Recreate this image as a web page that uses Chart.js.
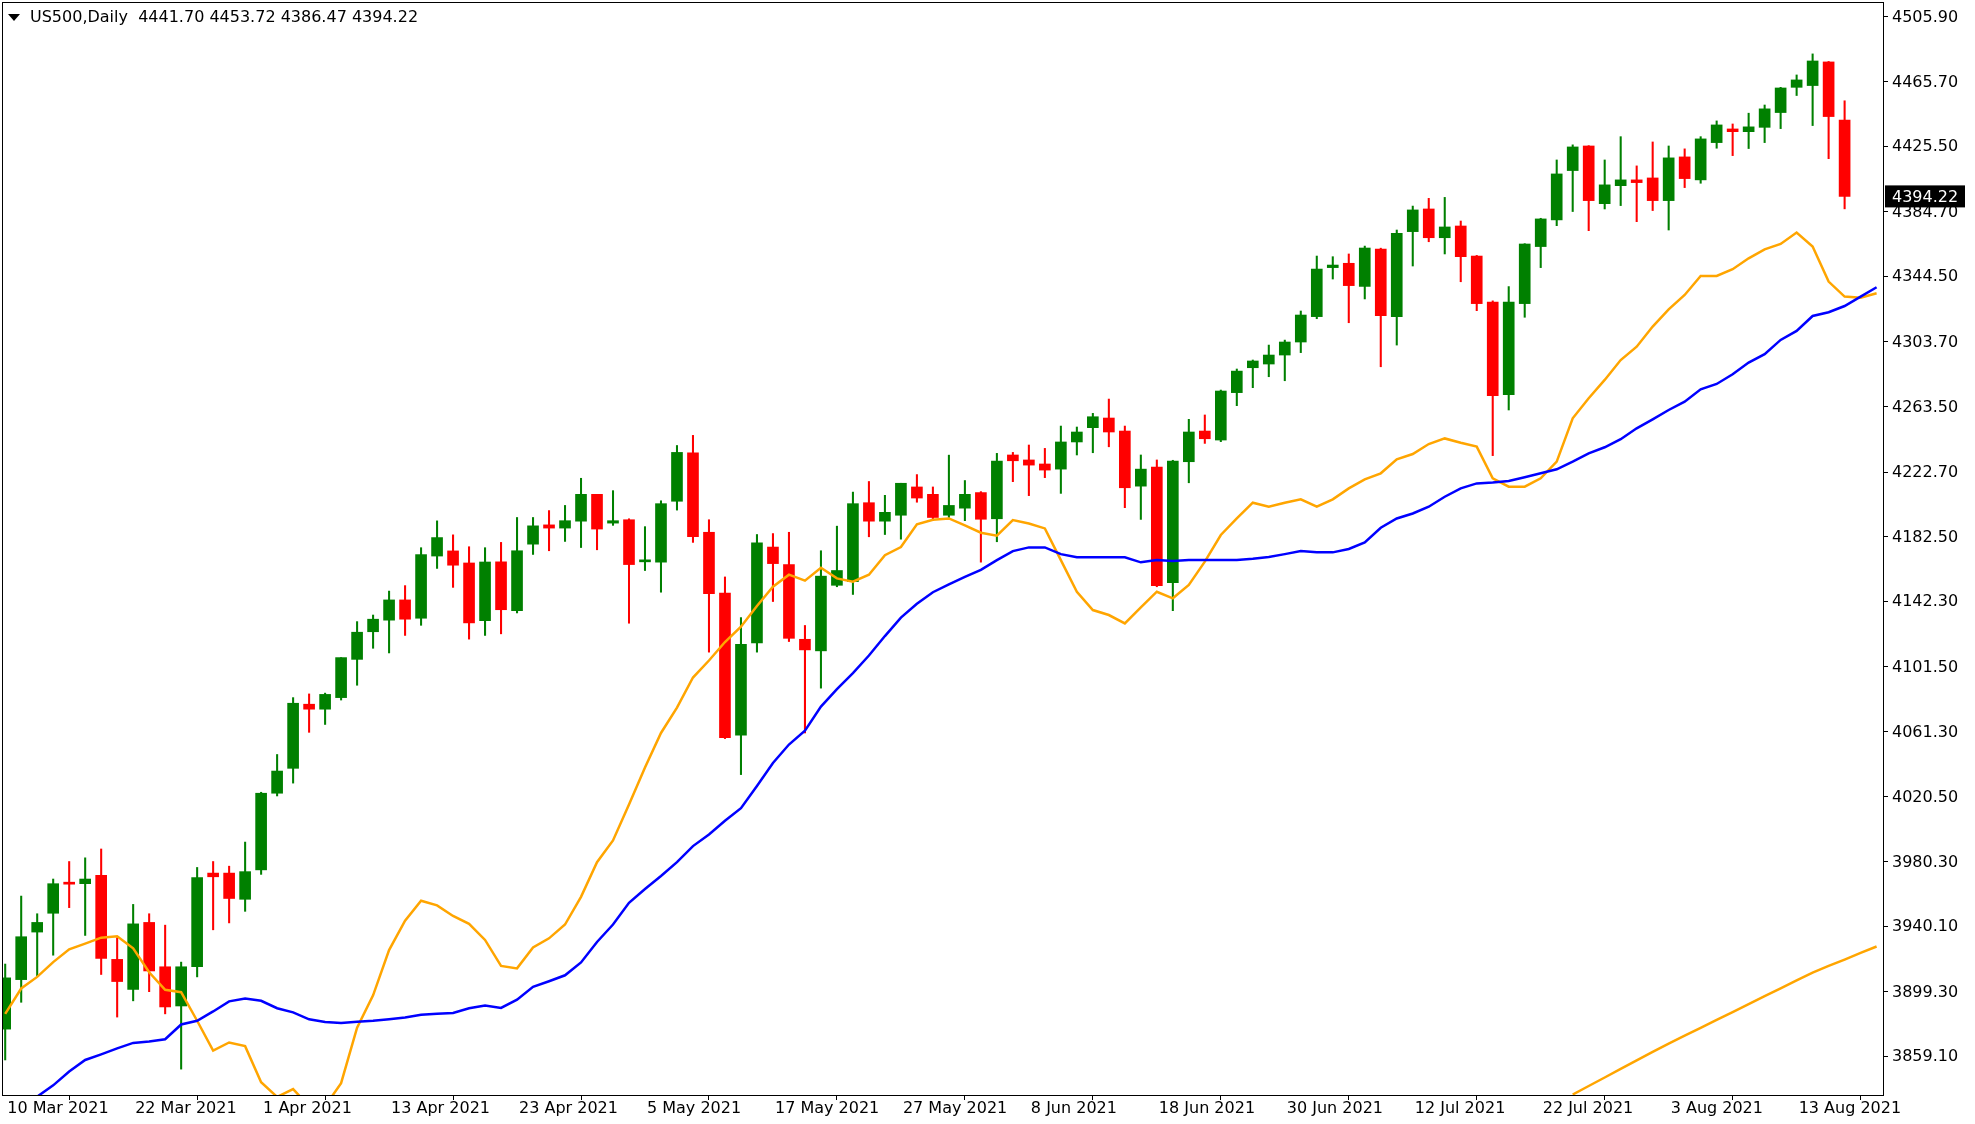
<!DOCTYPE html>
<html><head><meta charset="utf-8">
<script src="https://cdn.jsdelivr.net/npm/chart.js@4"></script>
<style>html,body{margin:0;padding:0;background:#fff;overflow:hidden}#wrap{width:1975px;height:1124px}</style>
</head><body><div id="wrap"><canvas id="c" width="1975" height="1124"></canvas></div>
<script>
const title = "US500,Daily  4441.70 4453.72 4386.47 4394.22";
const lastPrice = 4394.22;
const tickIdx = [0,8,16,24,32,40,48,56,64,72,80,88,96,104,112];
const tickLabels = ["10 Mar 2021","22 Mar 2021","1 Apr 2021","13 Apr 2021","23 Apr 2021","5 May 2021","17 May 2021","27 May 2021","8 Jun 2021","18 Jun 2021","30 Jun 2021","12 Jul 2021","22 Jul 2021","3 Aug 2021","13 Aug 2021"];
const yTicks = [4505.90,4465.70,4425.50,4384.70,4344.50,4303.70,4263.50,4222.70,4182.50,4142.30,4101.50,4061.30,4020.50,3980.30,3940.10,3899.30,3859.10];
const opens = [3876.0,3906.8,3936.4,3948.1,3967.4,3966.5,3971.7,3919.4,3900.7,3942.4,3914.8,3890.4,3914.8,3973.1,3973.1,3956.8,3975.1,4022.8,4038.3,4078.2,4075.1,4082.3,4106.1,4123.3,4130.5,4143.1,4131.7,4170.4,4173.6,4166.1,4130.2,4166.8,4136.4,4177.8,4189.8,4187.8,4192.1,4208.8,4190.9,4193.0,4166.8,4166.6,4204.5,4234.6,4185.2,4147.3,4058.9,4116.3,4176.0,4165.1,4118.6,4111.4,4152.2,4154.5,4203.6,4192.1,4195.8,4213.4,4208.8,4195.8,4200.2,4209.9,4193.6,4233.3,4230.2,4227.7,4224.5,4241.4,4250.3,4256.3,4248.2,4213.9,4225.8,4153.8,4229.1,4248.2,4242.6,4272.1,4287.6,4289.9,4295.5,4303.6,4319.4,4349.9,4352.6,4338.2,4361.5,4319.4,4372.3,4386.4,4368.5,4375.8,4357.1,4328.5,4270.9,4327.5,4363.0,4379.6,4410.3,4425.6,4389.7,4400.9,4404.5,4405.7,4391.6,4418.8,4404.5,4427.7,4436.2,4434.5,4437.2,4446.4,4462.1,4463.2,4477.9,4441.7];
const highs = [3916.5,3958.8,3947.8,3969.4,3980.3,3982.6,3988.1,3932.9,3953.6,3947.8,3940.7,3917.7,3976.6,3980.3,3977.4,3992.4,4023.4,4046.9,4082.3,4084.6,4085.1,4107.2,4129.6,4133.7,4148.6,4152.0,4175.6,4192.3,4183.6,4176.2,4175.6,4178.9,4194.4,4194.4,4198.7,4201.9,4218.8,4208.8,4211.1,4193.6,4188.7,4204.8,4239.2,4245.5,4193.0,4157.4,4132.1,4183.8,4184.4,4185.2,4127.2,4173.7,4189.0,4210.2,4216.8,4208.2,4215.7,4221.1,4213.4,4233.2,4217.4,4210.5,4234.3,4234.9,4239.5,4237.4,4251.3,4250.7,4259.2,4268.1,4251.3,4233.3,4230.2,4230.0,4255.5,4258.2,4273.7,4286.8,4292.4,4301.7,4304.8,4322.9,4357.1,4356.7,4358.4,4363.3,4362.0,4373.3,4388.2,4393.0,4393.6,4378.9,4357.5,4329.2,4338.1,4364.8,4380.6,4416.9,4426.3,4425.8,4416.9,4431.4,4413.2,4428.1,4425.6,4423.8,4431.4,4441.2,4439.3,4446.0,4451.1,4462.1,4469.8,4482.9,4478.2,4453.72];
const lows = [3856.8,3892.7,3909.1,3922.0,3951.6,3934.3,3910.0,3883.5,3893.6,3899.3,3885.5,3851.1,3908.5,3937.8,3942.1,3949.3,3972.3,4021.1,4029.1,4060.7,4065.6,4080.8,4090.0,4113.0,4110.1,4121.0,4127.3,4162.7,4150.9,4118.7,4121.0,4122.0,4135.0,4171.4,4173.7,4179.5,4175.7,4174.3,4189.5,4128.6,4161.4,4147.9,4199.0,4178.9,4110.6,4056.8,4034.4,4110.6,4142.1,4117.2,4060.3,4088.2,4151.3,4146.5,4182.4,4183.8,4180.9,4203.9,4192.4,4194.4,4192.4,4166.6,4179.3,4216.7,4208.0,4219.2,4209.4,4233.3,4234.7,4238.4,4200.5,4193.2,4151.3,4136.4,4216.0,4240.5,4241.6,4264.0,4275.2,4282.0,4279.5,4297.0,4318.1,4342.8,4315.6,4330.4,4288.2,4301.7,4350.9,4366.0,4358.4,4341.1,4323.1,4232.9,4261.3,4319.0,4349.9,4376.0,4384.8,4372.9,4386.4,4388.5,4378.5,4385.4,4373.3,4399.7,4402.4,4424.2,4419.6,4424.0,4427.7,4436.4,4457.0,4438.3,4417.7,4386.47];
const closes = [3907.9,3933.5,3942.4,3966.5,3966.2,3969.4,3920.0,3905.6,3941.5,3912.2,3889.8,3914.8,3970.3,3970.8,3957.3,3974.0,4022.8,4036.6,4078.8,4075.1,4084.3,4107.2,4123.0,4131.1,4143.1,4131.1,4171.3,4181.9,4164.7,4128.8,4166.7,4137.0,4173.7,4189.2,4187.8,4192.4,4208.8,4187.2,4192.4,4165.1,4167.4,4203.0,4234.9,4182.4,4147.0,4057.4,4115.4,4178.6,4165.7,4119.2,4112.0,4157.9,4161.4,4203.0,4192.1,4197.6,4215.7,4206.5,4194.4,4201.9,4208.8,4193.3,4229.5,4229.7,4227.0,4223.9,4241.4,4247.6,4257.1,4247.6,4212.9,4224.5,4151.9,4229.5,4247.6,4243.4,4273.1,4285.5,4291.8,4295.5,4303.6,4320.4,4349.0,4351.5,4338.7,4362.1,4320.0,4371.2,4385.8,4368.5,4375.2,4356.7,4327.5,4270.2,4328.5,4364.6,4380.2,4408.2,4425.0,4391.6,4401.4,4404.5,4402.8,4391.6,4418.2,4405.3,4430.0,4438.7,4434.5,4437.5,4448.7,4461.7,4466.7,4478.5,4443.9,4394.22];
const maFast = [3885.5,3901.3,3908.5,3917.7,3925.7,3929.2,3932.9,3933.8,3926.3,3911.4,3900.5,3899.0,3881.2,3862.6,3867.7,3865.4,3843.0,3833.8,3838.7,3828,3828,3842.4,3876.9,3897.0,3925.2,3943.5,3955.9,3953.0,3946.4,3941.5,3931.5,3915.3,3913.8,3926.8,3932.5,3941.1,3958.3,3979.9,3993.4,4015.8,4038.8,4060.3,4076.1,4094.8,4105.4,4116.9,4126.4,4139.3,4151.3,4158.8,4155.1,4163.1,4156.5,4154.5,4158.8,4170.9,4176.0,4190.1,4193.0,4193.8,4189.5,4184.9,4183.1,4192.8,4190.7,4187.6,4167.9,4148.2,4136.8,4133.7,4128.5,4138.4,4148.2,4144.1,4152.4,4166.9,4183.5,4193.8,4203.6,4201.1,4203.6,4205.7,4201.1,4205.7,4212.5,4218.1,4221.9,4230.6,4233.9,4240.1,4243.6,4240.9,4238.5,4218.8,4213.6,4213.6,4218.8,4229.2,4256.1,4268.6,4280.0,4292.4,4300.7,4313.2,4323.9,4332.9,4344.7,4344.7,4348.9,4355.7,4361.3,4364.6,4371.7,4363.0,4341.2,4331.9,4331.2,4333.9];
const maMid = [3825,3830,3834,3841,3849.6,3856.8,3860.3,3864.0,3867.4,3868.3,3869.7,3878.9,3881.2,3887.0,3893.3,3895.0,3893.6,3889.0,3886.4,3882.1,3880.4,3879.8,3880.6,3881.2,3882.1,3883.2,3884.9,3885.5,3886.1,3889.0,3890.7,3889.2,3894.3,3902.3,3905.8,3909.5,3917.5,3930.2,3941.1,3954.6,3963.2,3971.3,3979.9,3989.9,3997.1,4005.7,4013.5,4027.3,4041.6,4053.1,4061.7,4076.7,4087.6,4097.6,4108.5,4120.6,4132.1,4140.7,4147.9,4152.8,4157.4,4161.8,4167.9,4173.5,4175.8,4175.8,4171.6,4169.6,4169.6,4169.6,4169.6,4166.5,4167.9,4167.3,4167.9,4167.9,4167.9,4167.9,4168.7,4169.8,4171.6,4173.5,4172.7,4172.7,4174.8,4178.9,4188.0,4193.8,4196.9,4201.1,4207.3,4212.5,4215.6,4216.1,4217.1,4219.4,4221.9,4224.4,4229.2,4234.3,4238.1,4243.1,4249.9,4255.5,4261.3,4266.5,4274.2,4277.5,4283.5,4290.8,4296.0,4304.9,4310.5,4319.8,4322.1,4326.0,4331.8,4337.7];
const maSlowStart = 98;
const maSlow = [3835.3,3840.6,3845.9,3851.2,3856.5,3861.8,3867.0,3871.9,3876.8,3881.7,3886.6,3891.6,3896.5,3901.4,3906.3,3911.2,3915.3,3919.3,3923.4,3927.4];

const UP='#008000', DN='#ff0000';
const col = opens.map((o,i)=> closes[i]>=o ? UP : DN);
const wicks = lows.map((l,i)=>({x:i,y:[l,highs[i]]}));
const bodies = opens.map((o,i)=>({x:i,y:[o,closes[i]]}));
const fast = maFast.map((v,i)=>({x:i,y:v}));
const mid = maMid.map((v,i)=>({x:i,y:v}));
const slow = maSlow.map((v,i)=>({x:i+maSlowStart,y:v}));
const FONT = '"DejaVu Sans", sans-serif';

const deco = {
  id:'deco',
  afterDraw(ch){
    const c=ch.ctx, a=ch.chartArea, xs=ch.scales.x, ys=ch.scales.y;
    c.save();
    c.strokeStyle='#000'; c.lineWidth=1;
    c.strokeRect(Math.round(a.left)+0.5, Math.round(a.top)+0.5, Math.round(a.right-a.left), Math.round(a.bottom-a.top));
    c.fillStyle='#000';
    c.beginPath(); c.moveTo(8,14); c.lineTo(20,14); c.lineTo(14,21); c.closePath(); c.fill();
    c.font='16px '+FONT; c.textBaseline='middle'; c.textAlign='left';
    c.fillText(title, 30, 18);
    c.textBaseline='top';
    tickIdx.forEach((v,k)=>{ c.fillText(tickLabels[k], xs.getPixelForValue(v)+2, a.bottom+6); });
    c.textBaseline='middle';
    yTicks.forEach(v=>{ c.fillText(v.toFixed(2), a.right+9, ys.getPixelForValue(v)+1); });
    const py = ys.getPixelForValue(lastPrice);
    c.fillStyle='#000'; c.fillRect(a.right+2, py-11, 80, 22);
    c.fillStyle='#fff'; c.fillText(lastPrice.toFixed(2), a.right+9, py+1);
    c.restore();
  }
};

new Chart(document.getElementById('c'), {
  type:'bar',
  data:{datasets:[
    {type:'line', data:slow, borderColor:'#ffa500', borderWidth:2.5, pointRadius:0, order:3},
    {type:'line', data:fast, borderColor:'#ffa500', borderWidth:2.5, pointRadius:0, order:2},
    {type:'line', data:mid, borderColor:'#0000ff', borderWidth:2.5, pointRadius:0, order:1},
    {data:wicks, backgroundColor:col, barThickness:1.4, grouped:false, order:5},
    {data:bodies, backgroundColor:col, barThickness:11, minBarLength:2, grouped:false, order:4}
  ]},
  options:{
    responsive:false, animation:false, devicePixelRatio:1,
    layout:{padding:{left:2, top:2, right:0, bottom:0}},
    plugins:{legend:{display:false}, tooltip:{enabled:false}},
    scales:{
      x:{type:'linear', min:-0.2, max:117.4, position:'bottom', offset:false,
        grid:{display:true, drawOnChartArea:false, drawTicks:true, tickLength:5, color:'#000'},
        border:{display:true, color:'#000'},
        ticks:{display:false},
        afterBuildTicks(ax){ ax.ticks = tickIdx.map(v=>({value:v})); },
        afterFit(ax){ ax.height = 29; }
      },
      y:{position:'right', min:3835, max:4515.2,
        grid:{display:true, drawOnChartArea:false, drawTicks:true, tickLength:5, color:'#000'},
        border:{display:true, color:'#000'},
        ticks:{display:false},
        afterBuildTicks(ax){ ax.ticks = yTicks.map(v=>({value:v})); },
        afterFit(ax){ ax.width = 92; }
      }
    }
  },
  plugins:[deco]
});
</script></body></html>
